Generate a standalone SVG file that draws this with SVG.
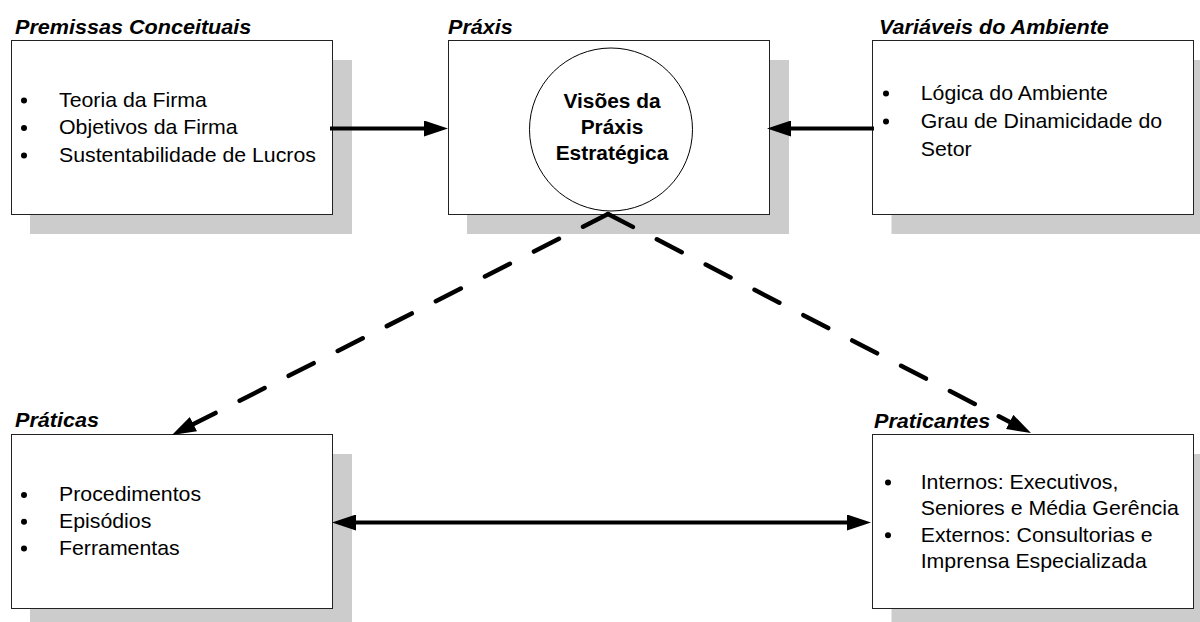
<svg xmlns="http://www.w3.org/2000/svg" width="1200" height="622" viewBox="0 0 1200 622">
  <style>
    .shadow { fill: #cccccc; }
    .box { fill: #ffffff; stroke: #222222; stroke-width: 1; }
    .body { font-family: "Liberation Sans", Arial, sans-serif; font-size: 20px; fill: #000000; }
    .title { font-family: "Liberation Sans", Arial, sans-serif; font-size: 20px; font-weight: bold; font-style: italic; fill: #000000; }
    .core { font-family: "Liberation Sans", Arial, sans-serif; font-size: 20.5px; font-weight: bold; fill: #000000; text-anchor: middle; }
    .dot { fill: #000000; }
    .solid { fill: none; stroke: #000000; stroke-width: 4; }
    .dashed { fill: none; stroke: #000000; stroke-width: 4.5; stroke-linecap: round; stroke-dasharray: 28 27; }
  </style>
  <defs>
    <marker id="head" viewBox="0 0 24 16" markerWidth="24" markerHeight="16" markerUnits="userSpaceOnUse" refX="14" refY="8" orient="auto-start-reverse">
      <path d="M0,0 L24,8 L0,16 Z" fill="#000000"/>
    </marker>
  </defs>

  <rect width="1200" height="622" fill="#ffffff"/>

  <!-- Premissas Conceituais -->
  <g id="premissas">
    <rect class="shadow" x="30" y="60" width="322" height="174"/>
    <rect class="box" x="11.5" y="40.5" width="321" height="174"/>
    <g transform="translate(15,0) scale(1.08,1)">
      <text class="title" x="0" y="34">Premissas Conceituais</text>
    </g>
    <circle class="dot" cx="24" cy="100.5" r="3"/>
    <circle class="dot" cx="24" cy="128" r="3"/>
    <circle class="dot" cx="24" cy="155.5" r="3"/>
    <g class="body" transform="translate(59,0) scale(1.065,1)">
      <text x="0" y="107">Teoria da Firma</text>
      <text x="0" y="134.5">Objetivos da Firma</text>
      <text x="0" y="162">Sustentabilidade de Lucros</text>
    </g>
  </g>

  <!-- Práxis -->
  <g id="praxis">
    <rect class="shadow" x="467" y="60" width="322" height="174"/>
    <rect class="box" x="448.5" y="40.5" width="321" height="174"/>
    <g transform="translate(448,0) scale(1.08,1)">
      <text class="title" x="0" y="34">Práxis</text>
    </g>
    <circle cx="611" cy="129.5" r="81.5" fill="#ffffff" stroke="#000000" stroke-width="1"/>
    <g transform="translate(612,0) scale(1.02,1)">
      <text class="core" x="0" y="108.5">Visões da</text>
      <text class="core" x="0" y="134.5">Práxis</text>
      <text class="core" x="0" y="160.5">Estratégica</text>
    </g>
  </g>

  <!-- Variáveis do Ambiente -->
  <g id="ambiente">
    <rect class="shadow" x="891.5" y="60" width="322" height="174"/>
    <rect class="box" x="872.5" y="40.5" width="321" height="174"/>
    <g transform="translate(879,0) scale(1.08,1)">
      <text class="title" x="0" y="34">Variáveis do Ambiente</text>
    </g>
    <circle class="dot" cx="886" cy="93.5" r="3"/>
    <circle class="dot" cx="886" cy="121.5" r="3"/>
    <g class="body" transform="translate(920.7,0) scale(1.065,1)">
      <text x="0" y="100">Lógica do Ambiente</text>
      <text x="0" y="128">Grau de Dinamicidade do</text>
      <text x="0" y="156">Setor</text>
    </g>
  </g>

  <!-- Práticas -->
  <g id="praticas">
    <rect class="shadow" x="30" y="454" width="322" height="174"/>
    <rect class="box" x="11.5" y="434.5" width="321" height="174"/>
    <g transform="translate(15,0) scale(1.08,1)">
      <text class="title" x="0" y="427.5">Práticas</text>
    </g>
    <circle class="dot" cx="24" cy="495" r="3"/>
    <circle class="dot" cx="24" cy="521.8" r="3"/>
    <circle class="dot" cx="24" cy="548.5" r="3"/>
    <g class="body" transform="translate(59,0) scale(1.065,1)">
      <text x="0" y="501.5">Procedimentos</text>
      <text x="0" y="528.3">Episódios</text>
      <text x="0" y="555">Ferramentas</text>
    </g>
  </g>

  <!-- Praticantes -->
  <g id="praticantes">
    <rect class="shadow" x="891.5" y="454" width="322" height="174"/>
    <rect class="box" x="872.5" y="434.5" width="321" height="174"/>
    <g transform="translate(874,0) scale(1.08,1)">
      <text class="title" x="0" y="428">Praticantes</text>
    </g>
    <circle class="dot" cx="888" cy="482.5" r="3"/>
    <circle class="dot" cx="888" cy="535.2" r="3"/>
    <g class="body" transform="translate(920.7,0) scale(1.065,1)">
      <text x="0" y="489">Internos: Executivos,</text>
      <text x="0" y="515.3">Seniores e Média Gerência</text>
      <text x="0" y="541.7">Externos: Consultorias e</text>
      <text x="0" y="568.3">Imprensa Especializada</text>
    </g>
  </g>

  <!-- Connectors -->
  <g id="connectors">
    <path class="solid" d="M330,128.5 H438" marker-end="url(#head)"/>
    <path class="solid" d="M874,128.5 H777" marker-end="url(#head)"/>
    <path class="solid" d="M342,522.5 H861" marker-start="url(#head)" marker-end="url(#head)"/>
    <path class="dashed" d="M608,214 L180.9,430.5" marker-end="url(#head)"/>
    <path class="dashed" d="M608,214 L1022.1,428.4" marker-end="url(#head)"/>
  </g>
</svg>
